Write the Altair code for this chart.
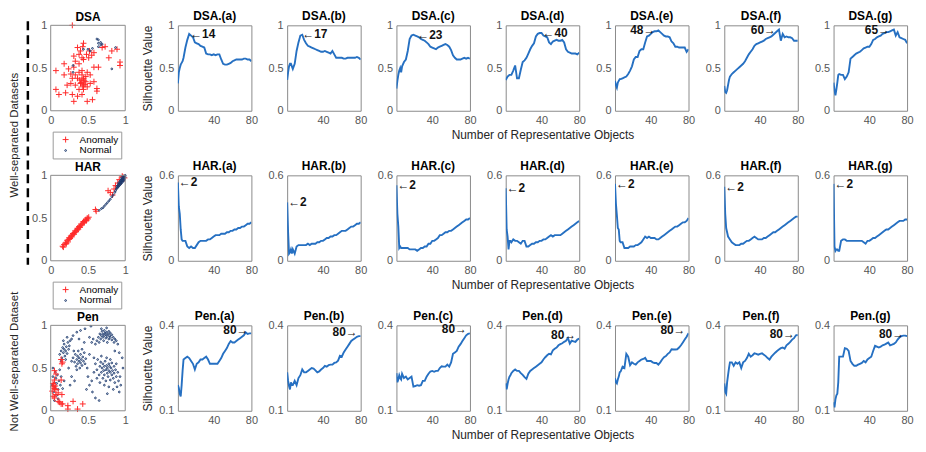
import altair as alt
import pandas as pd

BLUE = "#2670c2"
RED = "#ff2a2a"
NAVY = "#1d3a6e"
BOX = "#8a8a8a"
FONT = "Liberation Sans"
PLUS = "M-1,0L1,0M0,-1L0,1"

# x grid (number of representative objects) shared by all curves
K = [2, 3, 4, 5, 6, 7, 8,
     10, 12, 14, 16, 18, 20, 22, 24, 26,
     28, 30, 32, 34, 36, 38, 40, 42, 44,
     46, 48, 50, 52, 54, 56, 58, 60, 62,
     64, 66, 68, 70, 72, 74, 76, 78, 80]

LETTERS = ["a", "b", "c", "d", "e", "f", "g"]

DSA_A = [0.32, 0.45, 0.50, 0.54, 0.56, 0.58, 0.62,
         0.74, 0.83, 0.90, 0.88, 0.86, 0.80, 0.79, 0.78, 0.76,
         0.75, 0.74, 0.67, 0.66, 0.66, 0.65, 0.66, 0.65, 0.66,
         0.66, 0.60, 0.55, 0.54, 0.54, 0.55, 0.56, 0.58, 0.59,
         0.60, 0.60, 0.60, 0.60, 0.61, 0.61, 0.60, 0.60, 0.58]
DSA_B = [0.36, 0.45, 0.52, 0.55, 0.55, 0.52, 0.49,
         0.55, 0.70, 0.80, 0.88, 0.89, 0.83, 0.79, 0.76, 0.75,
         0.74, 0.73, 0.72, 0.71, 0.70, 0.69, 0.69, 0.70, 0.69,
         0.68, 0.67, 0.70, 0.66, 0.62, 0.62, 0.62, 0.62, 0.61,
         0.61, 0.62, 0.62, 0.62, 0.62, 0.62, 0.63, 0.62, 0.60]
DSA_C = [0.26, 0.35, 0.42, 0.47, 0.50, 0.45, 0.52,
         0.57, 0.60, 0.70, 0.84, 0.88, 0.89, 0.88, 0.87, 0.86,
         0.84, 0.83, 0.82, 0.80, 0.78, 0.75, 0.74, 0.73, 0.72,
         0.74, 0.75, 0.76, 0.77, 0.78, 0.77, 0.75, 0.71, 0.65,
         0.62, 0.60, 0.60, 0.60, 0.61, 0.62, 0.61, 0.62, 0.61]
DSA_D = [0.36, 0.38, 0.40, 0.41, 0.42, 0.42, 0.42,
         0.47, 0.53, 0.38, 0.38, 0.48, 0.57, 0.59, 0.62, 0.67,
         0.72, 0.76, 0.79, 0.87, 0.90, 0.91, 0.91, 0.88, 0.87,
         0.86, 0.80, 0.78, 0.81, 0.82, 0.83, 0.82, 0.82, 0.83,
         0.80, 0.72, 0.69, 0.68, 0.67, 0.67, 0.67, 0.66, 0.68]
DSA_E = [0.35, 0.30, 0.27, 0.33, 0.35, 0.37, 0.37,
         0.38, 0.39, 0.40, 0.43, 0.47, 0.52, 0.60, 0.63, 0.63,
         0.70, 0.72, 0.72, 0.80, 0.87, 0.88, 0.90, 0.92, 0.93,
         0.93, 0.94, 0.92, 0.90, 0.88, 0.87, 0.87, 0.86, 0.81,
         0.79, 0.75, 0.75, 0.74, 0.74, 0.74, 0.74, 0.69, 0.72]
DSA_F = [0.29, 0.22, 0.21, 0.24, 0.30, 0.36, 0.40,
         0.43, 0.45, 0.47, 0.49, 0.51, 0.53, 0.55, 0.58, 0.62,
         0.66, 0.69, 0.72, 0.76, 0.78, 0.79, 0.80, 0.81, 0.82,
         0.84, 0.85, 0.86, 0.87, 0.89, 0.91, 0.93, 0.95, 0.82,
         0.90, 0.86, 0.87, 0.86, 0.86, 0.85, 0.82, 0.82, 0.82]
DSA_G = [0.33, 0.24, 0.18, 0.25, 0.33, 0.42, 0.43,
         0.42, 0.42, 0.37, 0.40, 0.45, 0.61, 0.63, 0.65, 0.67,
         0.68, 0.69, 0.71, 0.73, 0.74, 0.75, 0.75, 0.78, 0.83,
         0.84, 0.86, 0.87, 0.88, 0.90, 0.91, 0.92, 0.92, 0.93,
         0.94, 0.95, 0.88, 0.92, 0.86, 0.85, 0.84, 0.83, 0.79]

HAR_A = [0.55, 0.38, 0.33, 0.22, 0.15, 0.14, 0.14,
         0.14, 0.10, 0.09, 0.10, 0.09, 0.09, 0.11, 0.13, 0.14,
         0.14, 0.14, 0.14, 0.15, 0.15, 0.16, 0.17, 0.18, 0.18,
         0.18, 0.19, 0.19, 0.19, 0.20, 0.20, 0.21, 0.21, 0.22,
         0.22, 0.23, 0.23, 0.24, 0.24, 0.25, 0.26, 0.26, 0.27]
HAR_B = [0.41, 0.20, 0.05, 0.06, 0.08, 0.05, 0.08,
         0.05, 0.10, 0.11, 0.11, 0.11, 0.11, 0.11, 0.12, 0.11,
         0.12, 0.12, 0.12, 0.13, 0.13, 0.14, 0.14, 0.15, 0.16,
         0.16, 0.17, 0.17, 0.18, 0.18, 0.19, 0.20, 0.21, 0.21,
         0.21, 0.22, 0.23, 0.24, 0.24, 0.25, 0.26, 0.26, 0.27]
HAR_C = [0.53, 0.33, 0.24, 0.09, 0.10, 0.09, 0.09,
         0.09, 0.09, 0.09, 0.08, 0.08, 0.08, 0.08, 0.07, 0.08,
         0.09, 0.09, 0.10, 0.10, 0.12, 0.12, 0.14, 0.14, 0.15,
         0.16, 0.18, 0.18, 0.19, 0.20, 0.20, 0.21, 0.21, 0.22,
         0.23, 0.24, 0.25, 0.26, 0.27, 0.28, 0.29, 0.29, 0.30]
HAR_D = [0.51, 0.22, 0.17, 0.08, 0.14, 0.14, 0.13,
         0.15, 0.14, 0.14, 0.13, 0.12, 0.14, 0.14, 0.10, 0.10,
         0.11, 0.12, 0.12, 0.13, 0.13, 0.14, 0.14, 0.15, 0.15,
         0.16, 0.17, 0.18, 0.17, 0.18, 0.18, 0.18, 0.18, 0.19,
         0.20, 0.21, 0.22, 0.23, 0.24, 0.25, 0.26, 0.27, 0.28]
HAR_E = [0.54, 0.40, 0.32, 0.23, 0.22, 0.14, 0.13,
         0.13, 0.09, 0.09, 0.09, 0.10, 0.10, 0.10, 0.11, 0.11,
         0.12, 0.13, 0.15, 0.17, 0.16, 0.17, 0.16, 0.16, 0.16,
         0.15, 0.15, 0.16, 0.17, 0.18, 0.19, 0.20, 0.21, 0.22,
         0.23, 0.24, 0.24, 0.25, 0.26, 0.27, 0.27, 0.28, 0.30]
HAR_F = [0.52, 0.33, 0.23, 0.20, 0.17, 0.16, 0.15,
         0.13, 0.12, 0.11, 0.11, 0.11, 0.12, 0.12, 0.13, 0.14,
         0.14, 0.15, 0.16, 0.17, 0.16, 0.15, 0.15, 0.15, 0.16,
         0.16, 0.17, 0.18, 0.19, 0.20, 0.20, 0.21, 0.22, 0.23,
         0.24, 0.25, 0.26, 0.27, 0.28, 0.29, 0.30, 0.31, 0.31]
HAR_G = [0.54, 0.10, 0.07, 0.08, 0.08, 0.07, 0.07,
         0.14, 0.15, 0.15, 0.14, 0.14, 0.14, 0.14, 0.14, 0.14,
         0.14, 0.14, 0.14, 0.13, 0.12, 0.14, 0.14, 0.15, 0.16,
         0.16, 0.17, 0.18, 0.19, 0.20, 0.21, 0.22, 0.22, 0.23,
         0.24, 0.25, 0.26, 0.27, 0.28, 0.28, 0.28, 0.29, 0.29]

PEN_A = [0.19, 0.18, 0.16, 0.15, 0.19, 0.24, 0.28,
         0.285, 0.29, 0.285, 0.275, 0.265, 0.245, 0.265, 0.27, 0.28,
         0.28, 0.285, 0.29, 0.28, 0.265, 0.265, 0.265, 0.265, 0.265,
         0.275, 0.285, 0.30, 0.31, 0.32, 0.335, 0.345, 0.34, 0.34,
         0.345, 0.35, 0.355, 0.36, 0.365, 0.375, 0.37, 0.372, 0.372]
PEN_B = [0.235, 0.205, 0.187, 0.175, 0.20, 0.19, 0.19,
         0.205, 0.19, 0.215, 0.225, 0.245, 0.235, 0.235, 0.24, 0.245,
         0.25, 0.248, 0.242, 0.235, 0.238, 0.245, 0.25, 0.258, 0.255,
         0.26, 0.262, 0.262, 0.268, 0.27, 0.276, 0.293, 0.29, 0.305,
         0.315, 0.325, 0.335, 0.345, 0.35, 0.355, 0.36, 0.362, 0.362]
PEN_C = [0.232, 0.20, 0.21, 0.225, 0.215, 0.21, 0.23,
         0.215, 0.22, 0.21, 0.215, 0.22, 0.185, 0.187, 0.19, 0.188,
         0.19, 0.205, 0.205, 0.22, 0.23, 0.238, 0.24, 0.237, 0.24,
         0.24, 0.25, 0.256, 0.255, 0.255, 0.262, 0.255, 0.27, 0.30,
         0.305, 0.31, 0.325, 0.334, 0.345, 0.355, 0.365, 0.37, 0.372]
PEN_D = [0.196, 0.175, 0.195, 0.21, 0.22, 0.225, 0.232,
         0.24, 0.245, 0.24, 0.24, 0.232, 0.226, 0.218, 0.212, 0.23,
         0.24, 0.245, 0.25, 0.255, 0.26, 0.265, 0.27, 0.28, 0.288,
         0.295, 0.30, 0.298, 0.312, 0.318, 0.322, 0.33, 0.334, 0.337,
         0.342, 0.346, 0.356, 0.336, 0.346, 0.344, 0.342, 0.35, 0.354]
PEN_E = [0.214, 0.20, 0.196, 0.21, 0.22, 0.235, 0.238,
         0.255, 0.25, 0.30, 0.29, 0.26, 0.27, 0.265, 0.262, 0.27,
         0.275, 0.28, 0.282, 0.286, 0.275, 0.275, 0.275, 0.27, 0.268,
         0.268, 0.262, 0.27, 0.28, 0.288, 0.292, 0.30, 0.305, 0.316,
         0.315, 0.315, 0.316, 0.322, 0.33, 0.34, 0.35, 0.36, 0.372]
PEN_F = [0.196, 0.166, 0.16, 0.20, 0.225, 0.25, 0.27,
         0.27, 0.258, 0.27, 0.265, 0.27, 0.25, 0.27, 0.275, 0.285,
         0.30, 0.29, 0.295, 0.302, 0.30, 0.297, 0.30, 0.302, 0.297,
         0.292, 0.285, 0.28, 0.29, 0.297, 0.304, 0.31, 0.315, 0.32,
         0.322, 0.318, 0.33, 0.335, 0.342, 0.35, 0.355, 0.365, 0.366]
PEN_G = [0.13, 0.112, 0.14, 0.154, 0.16, 0.20, 0.29,
         0.29, 0.29, 0.32, 0.318, 0.31, 0.275, 0.265, 0.258, 0.258,
         0.262, 0.265, 0.268, 0.275, 0.27, 0.28, 0.285, 0.29, 0.31,
         0.328, 0.325, 0.322, 0.325, 0.33, 0.332, 0.336, 0.34, 0.33,
         0.332, 0.335, 0.34, 0.35, 0.358, 0.362, 0.364, 0.364, 0.362]

# annotations: (number, silhouette value, arrow side)
DSA_ANN = [(14, 0.90, "L"), (17, 0.90, "L"), (23, 0.89, "L"), (40, 0.91, "L"),
           (48, 0.94, "R"), (60, 0.95, "R"), (65, 0.94, "R")]
HAR_ANN = [(2, 0.55, "L"), (2, 0.41, "L"), (2, 0.53, "L"), (2, 0.51, "L"),
           (2, 0.54, "L"), (2, 0.52, "L"), (2, 0.54, "L")]
PEN_ANN = [(80, 0.385, "R"), (80, 0.376, "R"), (80, 0.388, "R"), (80, 0.365, "R"),
           (80, 0.382, "R"), (80, 0.370, "R"), (80, 0.370, "R")]

# scatter data (normalised coordinates)
DSA_ANOM = [(0.29, 1.0), (0.44, 0.79), (0.43, 0.75), (0.36, 0.74), (0.40, 0.70), (0.52, 0.70),
            (0.58, 0.68), (0.55, 0.65), (0.48, 0.66), (0.42, 0.62), (0.31, 0.64), (0.33, 0.58),
            (0.44, 0.60), (0.38, 0.55), (0.31, 0.51), (0.18, 0.55), (0.24, 0.49), (0.07, 0.47),
            (0.18, 0.42), (0.27, 0.43), (0.33, 0.42), (0.42, 0.47), (0.49, 0.45), (0.53, 0.42),
            (0.58, 0.51), (0.64, 0.51), (0.36, 0.38), (0.29, 0.38), (0.42, 0.36), (0.44, 0.38),
            (0.47, 0.34), (0.40, 0.32), (0.33, 0.30), (0.27, 0.32), (0.53, 0.32), (0.58, 0.34),
            (0.49, 0.28), (0.44, 0.25), (0.38, 0.25), (0.22, 0.30), (0.07, 0.25), (0.11, 0.19),
            (0.20, 0.21), (0.29, 0.19), (0.36, 0.17), (0.42, 0.19), (0.31, 0.11), (0.49, 0.11),
            (0.56, 0.13), (0.62, 0.26), (0.62, 0.23), (0.73, 0.75), (0.78, 0.62), (0.82, 0.70),
            (0.89, 0.72), (0.93, 0.57), (0.93, 0.53), (0.69, 0.74), (0.42, 0.42), (0.38, 0.45),
            (0.44, 0.30), (0.47, 0.40), (0.38, 0.66), (0.51, 0.62), (0.45, 0.35), (0.41, 0.33),
            (0.46, 0.31), (0.39, 0.36), (0.43, 0.28)]
DSA_NORM = [(0.64, 0.83), (0.62, 0.84), (0.64, 0.79), (0.67, 0.77), (0.69, 0.78), (0.64, 0.75),
            (0.56, 0.73), (0.53, 0.70), (0.50, 0.72), (0.87, 0.74), (0.30, 0.53), (0.30, 0.45),
            (0.82, 0.49), (0.44, 0.72), (0.67, 0.80)]

HAR_ANOM = [(0.16, 0.17), (0.17, 0.16), (0.18, 0.19), (0.20, 0.21), (0.21, 0.20), (0.22, 0.24),
            (0.23, 0.22), (0.24, 0.25), (0.25, 0.27), (0.26, 0.26), (0.27, 0.29), (0.28, 0.28),
            (0.29, 0.30), (0.30, 0.32), (0.31, 0.31), (0.32, 0.33), (0.33, 0.35), (0.34, 0.34),
            (0.35, 0.36), (0.36, 0.38), (0.37, 0.37), (0.38, 0.40), (0.39, 0.39), (0.40, 0.41),
            (0.41, 0.43), (0.42, 0.42), (0.43, 0.44), (0.44, 0.46), (0.45, 0.45), (0.46, 0.47),
            (0.47, 0.48), (0.48, 0.47), (0.49, 0.50), (0.50, 0.49), (0.51, 0.51), (0.61, 0.58),
            (0.60, 0.60), (0.77, 0.82), (0.83, 0.77), (0.80, 0.80), (0.85, 0.84), (0.90, 0.91),
            (0.92, 0.95), (0.95, 0.93), (0.97, 0.98), (0.99, 0.97), (0.96, 0.99), (0.87, 0.88)]
HAR_NORM = [(0.65, 0.59), (0.68, 0.61), (0.70, 0.62), (0.72, 0.64), (0.74, 0.66), (0.76, 0.68),
            (0.78, 0.70), (0.80, 0.72), (0.82, 0.75), (0.84, 0.77), (0.86, 0.80), (0.87, 0.82),
            (0.88, 0.84), (0.89, 0.85), (0.90, 0.86), (0.90, 0.88), (0.91, 0.87), (0.91, 0.89),
            (0.92, 0.88), (0.92, 0.90), (0.93, 0.89), (0.93, 0.91), (0.93, 0.93), (0.94, 0.90),
            (0.94, 0.92), (0.94, 0.94), (0.95, 0.91), (0.95, 0.93), (0.95, 0.95), (0.96, 0.92),
            (0.96, 0.94), (0.96, 0.96), (0.97, 0.93), (0.97, 0.95), (0.97, 0.97), (0.98, 0.94),
            (0.98, 0.96), (0.98, 0.98), (0.99, 0.95), (0.99, 0.97), (0.99, 0.99), (1.0, 0.98),
            (1.0, 1.0), (0.89, 0.87), (0.91, 0.91), (0.95, 0.97), (0.97, 0.99)]

PEN_ANOM = [(0.05, 0.15), (0.03, 0.28), (0.05, 0.26), (0.07, 0.25), (0.02, 0.23), (0.07, 0.19),
            (0.03, 0.17), (0.10, 0.11), (0.12, 0.10), (0.14, 0.08), (0.23, 0.06), (0.23, 0.02),
            (0.30, 0.11), (0.43, 0.08), (0.36, 0.02), (0.16, 0.57), (0.15, 0.55), (0.14, 0.60),
            (0.05, 0.47), (0.07, 0.43), (0.14, 0.36), (0.05, 0.36), (0.10, 0.21), (0.15, 0.19),
            (0.16, 0.08), (0.03, 0.32), (0.04, 0.30), (0.06, 0.29)]
PEN_NORM = [(0.62, 0.82), (0.64, 0.86), (0.65, 0.80), (0.66, 0.90), (0.67, 0.84), (0.68, 0.88),
            (0.69, 0.93), (0.70, 0.86), (0.70, 0.90), (0.71, 0.82), (0.72, 0.88), (0.72, 0.94),
            (0.73, 0.91), (0.74, 0.85), (0.74, 0.89), (0.75, 0.92), (0.76, 0.87), (0.76, 0.80),
            (0.77, 0.90), (0.78, 0.84), (0.78, 0.93), (0.79, 0.88), (0.80, 0.86), (0.80, 0.91),
            (0.82, 0.83), (0.82, 0.89), (0.84, 0.86), (0.85, 0.80), (0.86, 0.84), (0.88, 0.82),
            (0.60, 0.78), (0.57, 0.84), (0.55, 0.80), (0.90, 0.78), (0.68, 0.96), (0.75, 0.97),
            (0.52, 0.86),
            (0.60, 0.55), (0.62, 0.48), (0.63, 0.60), (0.65, 0.42), (0.66, 0.52), (0.67, 0.57),
            (0.68, 0.45), (0.69, 0.50), (0.70, 0.38), (0.70, 0.55), (0.71, 0.47), (0.72, 0.52),
            (0.72, 0.42), (0.73, 0.58), (0.74, 0.48), (0.74, 0.35), (0.75, 0.53), (0.76, 0.44),
            (0.76, 0.50), (0.77, 0.40), (0.78, 0.47), (0.78, 0.55), (0.79, 0.52), (0.80, 0.45),
            (0.80, 0.36), (0.81, 0.50), (0.82, 0.42), (0.82, 0.56), (0.83, 0.47), (0.84, 0.38),
            (0.85, 0.52), (0.85, 0.44), (0.86, 0.33), (0.87, 0.48), (0.88, 0.40), (0.89, 0.28),
            (0.90, 0.45), (0.91, 0.35), (0.92, 0.22), (0.94, 0.30), (0.72, 0.30), (0.66, 0.33),
            (0.78, 0.28), (0.84, 0.25), (0.62, 0.38), (0.58, 0.45), (0.75, 0.62), (0.68, 0.64),
            (0.80, 0.60), (0.88, 0.55), (0.93, 0.40), (0.76, 0.20),
            (0.30, 0.62), (0.32, 0.57), (0.33, 0.66), (0.34, 0.52), (0.35, 0.60), (0.36, 0.64),
            (0.36, 0.55), (0.37, 0.70), (0.38, 0.58), (0.38, 0.62), (0.39, 0.50), (0.40, 0.66),
            (0.40, 0.56), (0.41, 0.60), (0.42, 0.53), (0.43, 0.63), (0.44, 0.58), (0.45, 0.68),
            (0.46, 0.55), (0.47, 0.61), (0.35, 0.48), (0.42, 0.72), (0.28, 0.58), (0.49, 0.50),
            (0.31, 0.70),
            (0.12, 0.66), (0.14, 0.70), (0.15, 0.62), (0.16, 0.74), (0.17, 0.68), (0.18, 0.72),
            (0.18, 0.78), (0.19, 0.64), (0.20, 0.70), (0.21, 0.75), (0.22, 0.67), (0.23, 0.80),
            (0.24, 0.72), (0.25, 0.76), (0.14, 0.58), (0.20, 0.60), (0.26, 0.82), (0.22, 0.86),
            (0.28, 0.84), (0.17, 0.82),
            (0.02, 0.30), (0.03, 0.40), (0.04, 0.22), (0.05, 0.33), (0.06, 0.45), (0.06, 0.28),
            (0.07, 0.38), (0.08, 0.18), (0.08, 0.32), (0.09, 0.42), (0.10, 0.25), (0.11, 0.35),
            (0.12, 0.48), (0.13, 0.30), (0.14, 0.40), (0.16, 0.26), (0.03, 0.50), (0.10, 0.14),
            (0.18, 0.35), (0.05, 0.12),
            (0.30, 0.88), (0.35, 0.92), (0.40, 0.94), (0.46, 0.96), (0.54, 0.99), (0.50, 0.40),
            (0.52, 0.30), (0.55, 0.35), (0.56, 0.22), (0.48, 0.25), (0.58, 0.62), (0.52, 0.66),
            (0.45, 0.80), (0.38, 0.84), (0.97, 0.50), (0.96, 0.62), (0.92, 0.68), (0.86, 0.70),
            (0.60, 0.15), (0.65, 0.12), (0.28, 0.40), (0.24, 0.50), (0.32, 0.35), (0.26, 0.30)]

ROWS = [
    ("DSA", [DSA_A, DSA_B, DSA_C, DSA_D, DSA_E, DSA_F, DSA_G], DSA_ANN, [0, 1], [0, 0.5, 1]),
    ("HAR", [HAR_A, HAR_B, HAR_C, HAR_D, HAR_E, HAR_F, HAR_G], HAR_ANN, [0, 0.6], [0, 0.2, 0.4, 0.6]),
    ("Pen", [PEN_A, PEN_B, PEN_C, PEN_D, PEN_E, PEN_F, PEN_G], PEN_ANN, [0.1, 0.4], [0.1, 0.2, 0.3, 0.4]),
]

PW, PH = 74, 86
SW = 92  # scatter column (75 px plot + gap)


def line_panel(ds, letter, values, ann, ydom, yticks, idx):
    df = pd.DataFrame({"k": K, "s": values})
    xax = alt.Axis(values=[40, 80], title="Number of Representative Objects" if idx == 3 else None)
    yax = alt.Axis(values=yticks, format=".1~f", title="Silhouette Value" if idx == 0 else None)
    x = alt.X("k:Q", scale=alt.Scale(domain=[2, 80], nice=False, zero=False), axis=xax)
    y = alt.Y("s:Q", scale=alt.Scale(domain=ydom, nice=False, zero=False), axis=yax)
    line = alt.Chart(df).mark_line(color=BLUE, strokeWidth=1.9, clip=True).encode(x=x, y=y)
    n, yv, side = ann
    label = "\u2190" + str(n) if side == "L" else str(n) + "\u2192"
    adf = pd.DataFrame({"k": [n], "s": [yv], "t": [label]})
    txt = alt.Chart(adf).mark_text(
        align="left" if side == "L" else "right", baseline="middle",
        dx=1 if side == "L" else -3, font=FONT, fontSize=12, fontWeight="bold", color="#111111"
    ).encode(x="k:Q", y="s:Q", text="t:N")
    return alt.layer(line, txt).properties(width=PW, height=PH, title=f"{ds}.({letter})")


ONE = pd.DataFrame({"u": [0]})


def scatter_panel(name, anom, norm, legend_on, yaxis_extra, anomaly_on_top, dashed):
    rows_a = [(px, py, "Anomaly") for px, py in anom]
    rows_n = [(px, py, "Normal") for px, py in norm]
    rows = rows_n + rows_a if anomaly_on_top else rows_a + rows_n
    df = pd.DataFrame(rows, columns=["px", "py", "cls"])
    if legend_on:
        leg = alt.Legend(orient="none", legendX=2, legendY=107, title=None, strokeColor="#9a9a9a",
                         fillColor="white", padding=3, labelFontSize=10, labelFont=FONT,
                         labelColor="#000000", rowPadding=1, labelOffset=9, symbolOffset=5,
                         symbolStrokeWidth=1)
    else:
        leg = None
    dom = ["Anomaly", "Normal"]
    xs = alt.Scale(domain=[0, 1], range=[0, 75], nice=False, zero=False)
    pts = alt.Chart(df).mark_point(filled=False, strokeWidth=1, opacity=1).encode(
        x=alt.X("px:Q", scale=xs, axis=alt.Axis(values=[0, 0.5, 1], format=".1~f", title=None)),
        y=alt.Y("py:Q", scale=alt.Scale(domain=[0, 1], nice=False, zero=False),
                axis=alt.Axis(values=[0, 0.5, 1], format=".1~f", **yaxis_extra)),
        color=alt.Color("cls:N", scale=alt.Scale(domain=dom, range=[RED, NAVY]), legend=leg),
        shape=alt.Shape("cls:N", scale=alt.Scale(domain=dom, range=[PLUS, "circle"]), legend=leg),
        size=alt.Size("cls:N", scale=alt.Scale(type="ordinal", domain=dom, range=[36, 3]), legend=leg),
    )
    box = alt.Chart(ONE).mark_rect(fillOpacity=0, stroke=BOX, strokeWidth=1).encode(
        x=alt.datum(0), x2=alt.datum(1), y=alt.datum(0), y2=alt.datum(1))
    ttl = alt.Chart(ONE).mark_text(text=name, font=FONT, fontSize=12, fontWeight="bold",
                                   color="#000000", baseline="middle", align="center").encode(
        x=alt.datum(0.5), y=alt.value(-8))
    layers = [pts, box, ttl]
    if dashed:
        rule = alt.Chart(ONE).mark_rule(color="black", strokeWidth=2.5, strokeDash=[9, 5]).encode(
            x=alt.value(-23), y=alt.value(-4), y2=alt.value(241))
        layers.append(rule)
    return alt.layer(*layers).properties(
        width=SW, height=PH, view=alt.ViewBackground(stroke="transparent"))


panels = []
scat = {
    "DSA": (DSA_ANOM, DSA_NORM, True, {"title": None}, False, True),
    "HAR": (HAR_ANOM, HAR_NORM, True, {"title": "Well-separated  Datasets", "titleX": -36, "titleY": -41,
                                       "titleAngle": 270, "titleBaseline": "middle", "titleAlign": "center",
                                       "titleFontSize": 11.5},
            False, False),
    "Pen": (PEN_ANOM, PEN_NORM, False, {"title": "Not Well-separated Dataset", "titleX": -36, "titleY": 36,
                                        "titleAngle": 270, "titleBaseline": "middle", "titleAlign": "center",
                                        "titleFontSize": 11.5},
            True, False),
}
for ds, series, anns, ydom, yticks in ROWS:
    a, n, lg, yx, top, dashed = scat[ds]
    panels.append(scatter_panel(ds, a, n, lg, yx, top, dashed))
    for i, letter in enumerate(LETTERS):
        panels.append(line_panel(ds, letter, series[i], anns[i], ydom, yticks, i))

chart = alt.concat(
    *panels, columns=8, spacing={"row": 65, "column": 36}, align="each", bounds="flush",
    padding={"left": 0, "top": 0, "right": 4, "bottom": 2}
).resolve_scale(
    color="independent", shape="independent", size="independent"
).resolve_legend(
    color="independent", shape="independent", size="independent"
).configure_view(
    stroke=BOX, strokeWidth=1
).configure_axis(
    domain=False, ticks=False, grid=False, labelFont=FONT, labelFontSize=11, labelColor="#555555",
    labelPadding=4, labelFlush=False, titleFont=FONT, titleFontSize=12, titleFontWeight="normal",
    titleColor="#262626", titlePadding=4
).configure_title(
    font=FONT, fontSize=12, fontWeight="bold", offset=-4, color="#000000"
)

chart.save("out.html", embed_options={"renderer": "svg", "actions": False})
